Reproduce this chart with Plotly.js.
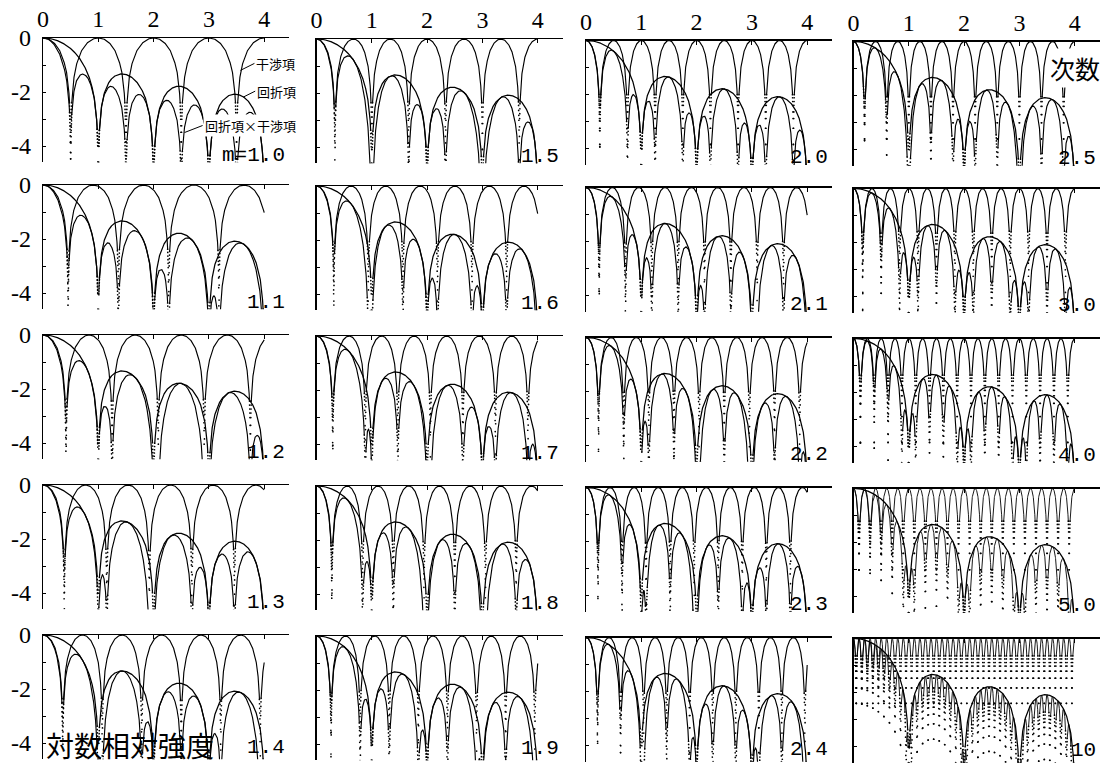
<!DOCTYPE html>
<html><head><meta charset="utf-8">
<script src="https://cdn.plot.ly/plotly-3.0.1.min.js"></script>
<style>html,body{margin:0;padding:0;background:#fff}#chart{width:1110px;height:765px}</style>
</head><body><div id="chart"></div>
<script>
// ---- data ----
const mValues = [1.0,1.5,2.0,2.5, 1.1,1.6,2.1,3.0, 1.2,1.7,2.2,4.0, 1.3,1.8,2.3,5.0, 1.4,1.9,2.4,10];
const mLabels = ['m=1.0','1.5','2.0','2.5','1.1','1.6','2.1','3.0','1.2','1.7','2.2','4.0','1.3','1.8','2.3','5.0','1.4','1.9','2.4','10'];
const xTickVals = [0,1,2,3,4];
const xTickText = ['0','1','2','3','4'];
const yTickVals = [0,-1,-2,-3,-4];
const yTickText = ['0','','-2','','-4'];
// interference-term arch (read from the m=1.0 panel): distance from arch top (fraction of one period) -> log level
const archOffset = [0,0.05,0.1,0.15,0.2,0.25,0.3,0.35,0.4,0.425,0.45,0.47,0.48,0.49,0.495,0.4975,0.499,0.5];
const archLevel  = [0,-0.01,-0.04,-0.10,-0.18,-0.30,-0.46,-0.69,-1.02,-1.26,-1.61,-2.05,-2.40,-3.01,-3.61,-4.21,-5.01,-7];
// diffraction term (same in every panel); -7 marks a zero far below the frame
const diffX = [0,0.05,0.1,0.15,0.2,0.25,0.3,0.35,0.4,0.45,0.5,0.55,0.6,0.65,0.7,0.75,0.8,0.85,0.9,0.925,0.95,0.97,0.98,0.99,1.0,
  1.01,1.02,1.03,1.05,1.075,1.1,1.15,1.2,1.25,1.3,1.35,1.4,1.45,1.5,1.55,1.6,1.65,1.7,1.75,1.8,1.85,1.9,1.925,1.95,1.97,1.98,1.99,2.0,
  2.01,2.02,2.03,2.05,2.075,2.1,2.15,2.2,2.25,2.3,2.35,2.4,2.45,2.5,2.55,2.6,2.65,2.7,2.75,2.8,2.85,2.9,2.925,2.95,2.97,2.98,2.99,3.0,
  3.01,3.02,3.03,3.05,3.075,3.1,3.15,3.2,3.25,3.3,3.35,3.4,3.45,3.5,3.55,3.6,3.65,3.7,3.75,3.8,3.85,3.9,3.925,3.95,3.97,3.98,3.99,4.0];
const diffY = [0,0,-0.01,-0.03,-0.06,-0.09,-0.13,-0.18,-0.24,-0.31,-0.39,-0.49,-0.59,-0.72,-0.87,-1.05,-1.26,-1.54,-1.92,-2.19,-2.56,-3.02,-3.38,-3.99,-7,
  -4.01,-3.42,-3.07,-2.65,-2.32,-2.10,-1.80,-1.61,-1.49,-1.41,-1.36,-1.33,-1.33,-1.35,-1.39,-1.45,-1.53,-1.64,-1.78,-1.97,-2.21,-2.57,-2.83,-3.19,-3.64,-3.99,-4.60,-7,
  -4.61,-4.01,-3.66,-3.23,-2.89,-2.66,-2.35,-2.14,-2.00,-1.90,-1.84,-1.80,-1.78,-1.79,-1.82,-1.87,-1.94,-2.04,-2.17,-2.35,-2.59,-2.94,-3.19,-3.55,-3.99,-4.35,-4.95,-7,
  -4.96,-4.36,-4.01,-3.57,-3.23,-3.00,-2.68,-2.47,-2.32,-2.22,-2.14,-2.10,-2.08,-2.08,-2.11,-2.15,-2.22,-2.31,-2.44,-2.62,-2.85,-3.20,-3.45,-3.80,-4.25,-4.60,-5.20,-7];

// ---- layout geometry (pixels) ----
const W = 1110, H = 765;
const colX0 = [43, 316.5, 586, 853.5];
const colDY = [0, 1, 2.5, 3.5];
const rowY0 = [38, 185, 335, 485, 635];
const unitX = 55.3, unitY = 27, xMax = 4.45, yMin = -4.6;
// plotter sampling: one point every 0.002 order, 0..4
const sampleStep = 0.002, sampleCount = 2000;

function lookup(xs, ys, x){
  if (x <= xs[0]) return ys[0];
  for (let i = 1; i < xs.length; i++){
    if (x <= xs[i]){ const t = (x - xs[i-1])/(xs[i]-xs[i-1]); return ys[i-1] + t*(ys[i]-ys[i-1]); }
  }
  return ys[ys.length-1];
}
function archAt(x, m){ const p = +(x*m).toFixed(9); return lookup(archOffset, archLevel, Math.abs(p - Math.round(p))); }
function diffAt(x){ return lookup(diffX, diffY, x); }

// draw a sampled curve like the plotter: joined where points are close, loose dots where steep
function plotterTraces(fn, xa, ya, lineStyle){
  const xs = [], ys = [];
  for (let i = 0; i <= sampleCount; i++){ const x = +(i*sampleStep).toFixed(6); xs.push(x); ys.push(fn(x)); }
  const th = 3/unitY, low = yMin - 0.05;
  const lx = [], ly = [], mx = [], my = [];
  for (let i = 0; i < xs.length; i++){
    const prevSteep = i > 0 && Math.abs(ys[i]-ys[i-1]) > th;
    const nextSteep = i < xs.length-1 && Math.abs(ys[i+1]-ys[i]) > th;
    if (prevSteep && ly.length && ly[ly.length-1] !== null){ lx.push(null); ly.push(null); }
    if (!(prevSteep && nextSteep)){ lx.push(xs[i]); ly.push(ys[i]); }
    if ((prevSteep || nextSteep) && ys[i] >= low){ mx.push(xs[i]); my.push(ys[i]); }
  }
  return [
    {type:'scatter', mode:'lines', x: lx, y: ly, xaxis: xa, yaxis: ya, line: lineStyle, connectgaps:false, hoverinfo:'skip'},
    {type:'scatter', mode:'markers', x: mx, y: my, xaxis: xa, yaxis: ya, marker:{size:1.7, color: lineStyle.color}, hoverinfo:'skip'}
  ];
}

const traces = [], layout = {
  width: W, height: H, margin: {l:0, r:0, t:0, b:0},
  paper_bgcolor: '#fff', plot_bgcolor: '#fff', showlegend: false,
  annotations: []
};
const tickFont = {family: 'Liberation Serif, DejaVu Serif, serif', size: 24, color: '#000'};

mValues.forEach((m, i) => {
  const r = Math.floor(i/4), c = i % 4;
  const n = i + 1;
  const xa = 'x' + (n === 1 ? '' : n), ya = 'y' + (n === 1 ? '' : n);
  const xk = 'xaxis' + (n === 1 ? '' : n), yk = 'yaxis' + (n === 1 ? '' : n);
  const left = colX0[c], right = left + xMax*unitX;
  const top = rowY0[r] + colDY[c], bottom = top + (-yMin)*unitY;
  layout[xk] = {
    domain: [left/W, right/W], range: [0, xMax], side: 'top', anchor: ya,
    showline: true, linecolor: '#000', linewidth: 1.3, ticks: 'inside', ticklen: 4, tickwidth: 1, tickcolor: '#000',
    tickmode: 'array', tickvals: xTickVals, ticktext: xTickText, showticklabels: r === 0,
    tickfont: tickFont, ticklabelstandoff: 0, showgrid: false, zeroline: false, fixedrange: true
  };
  layout[yk] = {
    domain: [1 - bottom/H, 1 - top/H], range: [yMin, 0], anchor: xa,
    showline: true, linecolor: '#000', linewidth: 1.3, ticks: 'inside', ticklen: 3, tickwidth: 1, tickcolor: '#000',
    tickmode: 'array', tickvals: yTickVals, ticktext: yTickText, showticklabels: c === 0,
    tickfont: tickFont, ticklabelstandoff: 6, showgrid: false, zeroline: false, fixedrange: true
  };
  const style = {color:'#000', width: m >= 5 ? 0.9 : 1.15};
  traces.push(...plotterTraces(x => archAt(x, m), xa, ya, style));
  traces.push(...plotterTraces(x => archAt(x, m) + diffAt(x), xa, ya, style));
  traces.push(...plotterTraces(x => diffAt(x), xa, ya, {color:'#000', width:1.25}));
  layout.annotations.push({
    xref: xa + ' domain', yref: ya, x: 1, y: r === 4 ? -4.15 : -4.35, xanchor: 'right', yanchor: 'middle', xshift: -2,
    text: mLabels[i], showarrow: false, font: {family: 'Liberation Mono, DejaVu Sans Mono, monospace', size: 21, color: '#000'}
  });
});

const cjk = 'Noto Sans CJK JP, sans-serif';
layout.annotations.push(
  {xref:'x', yref:'y', x:3.57, y:-1.2, ax:14, ay:-7, axref:'pixel', ayref:'pixel', xanchor:'left', showarrow:true, arrowhead:0, arrowwidth:1, arrowcolor:'#000',
   text:'干渉項', font:{family:cjk, size:13, color:'#000'}, bgcolor:'#fff'},
  {xref:'x', yref:'y', x:3.62, y:-2.19, ax:12, ay:-6, axref:'pixel', ayref:'pixel', xanchor:'left', showarrow:true, arrowhead:0, arrowwidth:1, arrowcolor:'#000',
   text:'回折項', font:{family:cjk, size:13, color:'#000'}, bgcolor:'#fff'},
  {xref:'x', yref:'y', x:2.56, y:-3.5, ax:18, ay:-7, axref:'pixel', ayref:'pixel', xanchor:'left', showarrow:true, arrowhead:0, arrowwidth:1, arrowcolor:'#000',
   text:'回折項×干渉項', font:{family:cjk, size:13, color:'#000'}, bgcolor:'#fff'},
  {xref:'paper', yref:'paper', x:1075/W, y:1-68/H, xanchor:'center', yanchor:'middle', showarrow:false,
   text:'次数', font:{family:cjk, size:25, color:'#000'}, bgcolor:'#fff'},
  {xref:'paper', yref:'paper', x:44/W, y:1-745/H, xanchor:'left', yanchor:'middle', showarrow:false,
   text:'対数相対強度', font:{family:cjk, size:28, color:'#000'}}
);

Plotly.newPlot('chart', traces, layout, {staticPlot: true, displayModeBar: false});
</script></body></html>
